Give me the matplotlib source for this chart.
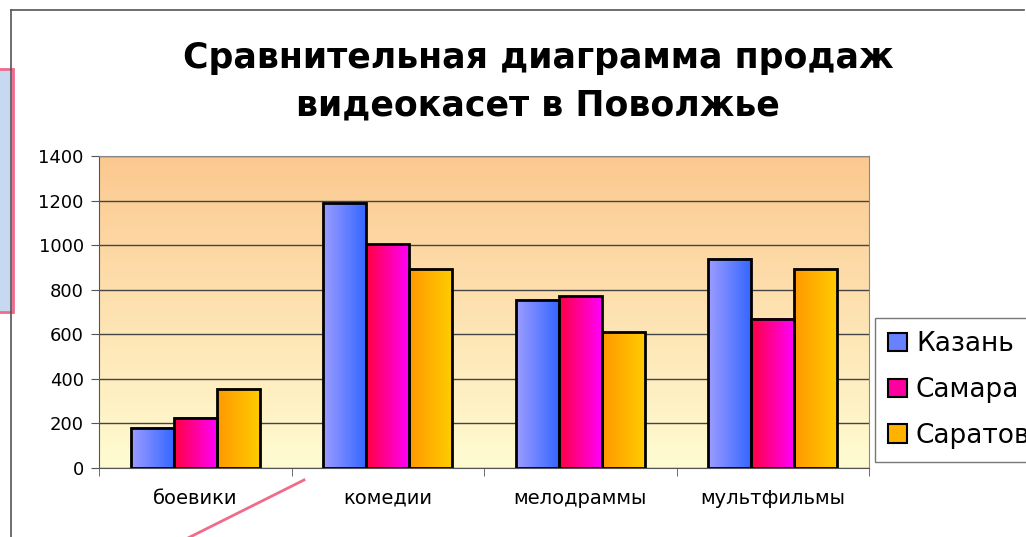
import numpy as np
import matplotlib.pyplot as plt
from matplotlib.colors import LinearSegmentedColormap
from matplotlib.patches import Rectangle
from matplotlib.lines import Line2D

# Продажи видеокассет по жанрам и городам
genres = ['боевики', 'комедии', 'мелодраммы', 'мультфильмы']
cities = ['Казань', 'Самара', 'Саратов']
kazan = [180, 1190, 755, 940]
samara = [225, 1005, 770, 670]
saratov = [355, 895, 610, 895]
y_ticks = [0, 200, 400, 600, 800, 1000, 1200, 1400]

# левый и правый цвет градиента для каждого ряда
gradients = {
    'Казань': ('#9c9cff', '#3366ff'),
    'Самара': ('#ff0040', '#ff00ff'),
    'Саратов': ('#ff9900', '#ffcc00'),
}

W, H = 1026, 537
fig = plt.figure(figsize=(W / 100, H / 100), dpi=100)

# рамка области диаграммы
fig.add_artist(Line2D([11 / W, 1024 / W], [1 - 10 / H, 1 - 10 / H], color='#555555', lw=1.2))
fig.add_artist(Line2D([11 / W, 11 / W], [0, 1 - 10 / H], color='#555555', lw=1.2))

ax = fig.add_axes([99 / W, 1 - 468 / H, 770 / W, 312 / H])

# фон с вертикальным градиентом
bg = LinearSegmentedColormap.from_list('bg', ['#fffcd2', '#fcc890'])
ax.imshow(np.linspace(0, 1, 256).reshape(-1, 1), cmap=bg, origin='lower',
          extent=[-0.5, len(genres) - 0.5, 0, 1400], aspect='auto', zorder=0)

x = np.arange(len(genres))
width = 0.224
for i, (city, vals) in enumerate(zip(cities, [kazan, samara, saratov])):
    bars = ax.bar(x + (i - 1) * width, vals, width, facecolor='none',
                  edgecolor='black', linewidth=2, zorder=3)
    cmap = LinearSegmentedColormap.from_list(city, gradients[city])
    for rect in bars:
        x0 = rect.get_x()
        ax.imshow(np.linspace(0, 1, 64).reshape(1, -1), cmap=cmap,
                  extent=[x0, x0 + rect.get_width(), 0, rect.get_height()],
                  aspect='auto', zorder=2)

ax.set_xlim(-0.5, len(genres) - 0.5)
ax.set_ylim(0, 1400)
ax.set_yticks(y_ticks)
ax.set_yticklabels([str(v) for v in y_ticks], fontsize=13)
ax.set_xticks(x)
ax.set_xticklabels(genres, fontsize=14)
ax.set_xticks(np.arange(-0.5, len(genres)), minor=True)
ax.tick_params(axis='x', which='major', length=0, pad=15)
ax.tick_params(axis='x', which='minor', length=6, color='#555555')
ax.tick_params(axis='y', length=6, color='#555555', pad=5)

ax.set_axisbelow(True)
ax.yaxis.grid(True, color='#444444', linewidth=1)
for side in ['left', 'bottom']:
    ax.spines[side].set_color('#555555')
for side in ['top', 'right']:
    ax.spines[side].set_color('#888888')

fig.text(538 / W, 1 - 82 / H, 'Сравнительная диаграмма продаж\nвидеокасет в Поволжье',
         ha='center', va='center', fontsize=25, fontweight='bold', linespacing=1.5)

handles = [Rectangle((0, 0), 1, 1, facecolor=LinearSegmentedColormap.from_list(c, gradients[c])(0.5),
                     edgecolor='black', linewidth=1.5) for c in cities]
leg = fig.legend(handles, cities, loc='upper left', bbox_to_anchor=(875 / W, 1 - 318 / H),
                 fontsize=19, frameon=True, fancybox=False, handlelength=0.7, handleheight=0.7,
                 handletextpad=0.35, labelspacing=0.75, borderaxespad=0, borderpad=0.5)
leg.get_frame().set_edgecolor('#555555')
leg.get_frame().set_linewidth(1)

# выноска слева и соединительная линия
fig.add_artist(Rectangle((-2 / W, 1 - 312 / H), 15 / W, 243 / H, facecolor='#c6d9f1',
                         edgecolor='#f06a8a', linewidth=2))
fig.add_artist(Line2D([186 / W, 304 / W], [1 - 539 / H, 1 - 480 / H], color='#f06a8a', lw=2))

fig.savefig('out.png', dpi=100)
